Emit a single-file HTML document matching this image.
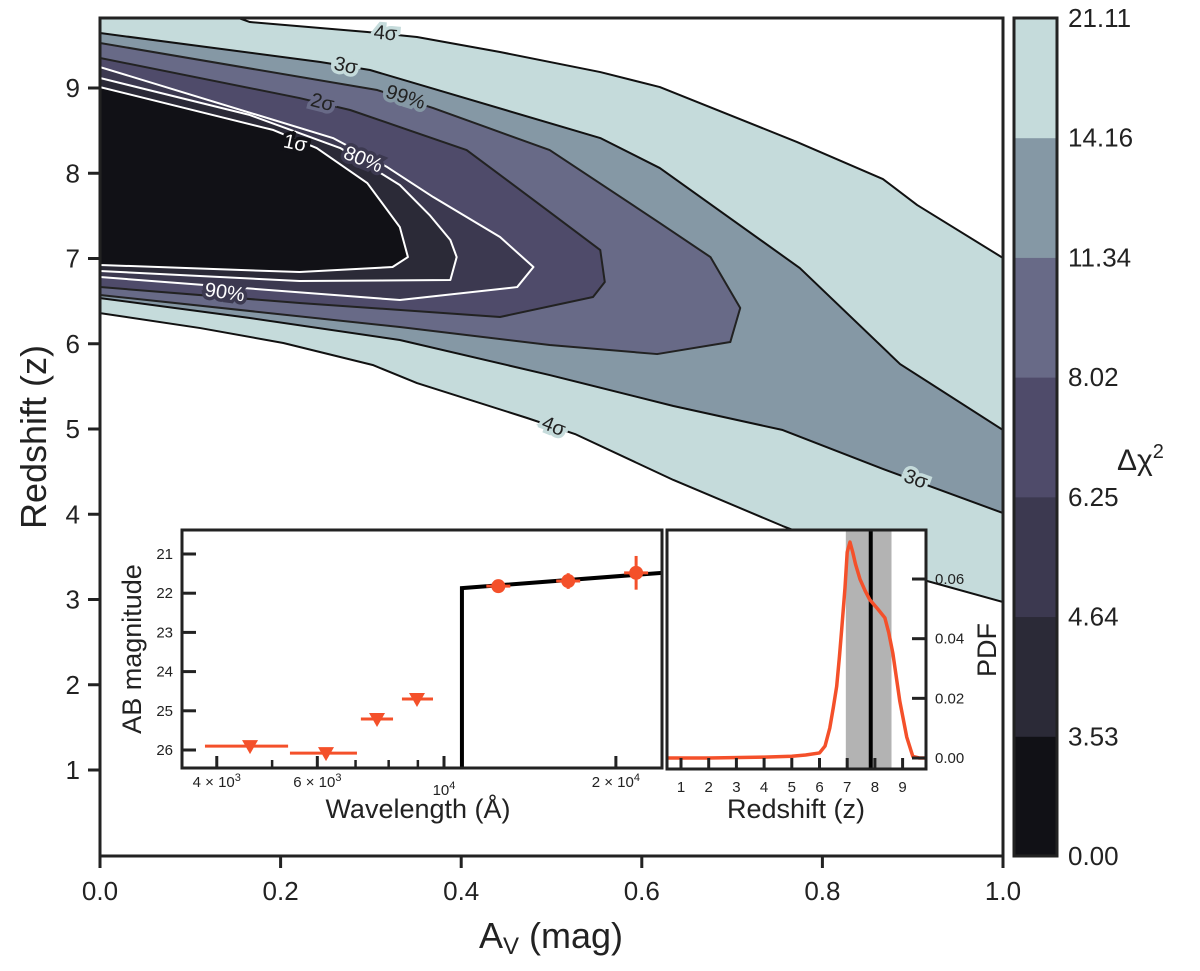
<!DOCTYPE html>
<html><head><meta charset="utf-8"><style>
html,body{margin:0;padding:0;background:#fff;}
svg text{font-family:"Liberation Sans","DejaVu Sans",sans-serif;fill:#222;}
</style></head><body>
<svg id="chart" width="1200" height="966" viewBox="0 0 1200 966" xmlns="http://www.w3.org/2000/svg"></svg>
<script>
// ---------- main contour data (Av, z) ----------
const bandColors = ["#c5dbdb","#8598a5","#686a87","#4f4b6a","#3c3950","#2b2a37","#111116"];
const bandStroke = ["#111","#111","#222","#222","#fff","#fff","#fff"];
const contour1 = [[0,9.856],[0.144,9.856],[0.166,9.774],[0.296,9.657],[0.351,9.598],[0.443,9.422],[0.554,9.187],[0.620,9.011],[0.772,8.366],[0.867,7.932],[0.905,7.627],[1,7.006],[1,2.97],[0.916,3.217],[0.756,3.862],[0.635,4.402],[0.526,4.941],[0.473,5.129],[0.351,5.539],[0.302,5.751],[0.203,6.009],[0.111,6.184],[0,6.360]];
const contour2 = [[0,9.645],[0.244,9.305],[0.299,9.211],[0.554,8.413],[0.620,8.061],[0.775,6.888],[0.886,5.762],[1,4.988],[1,4.014],[0.867,4.531],[0.756,4.988],[0.635,5.270],[0.498,5.633],[0.332,6.044],[0.166,6.302],[0,6.536]];
const contour3 = [[0,9.528],[0.307,8.976],[0.369,8.765],[0.498,8.272],[0.620,7.416],[0.676,7.017],[0.709,6.419],[0.698,6.020],[0.617,5.879],[0.498,5.985],[0.332,6.196],[0,6.572]];
const contour4 = [[0,9.352],[0.221,8.882],[0.277,8.742],[0.406,8.272],[0.498,7.545],[0.554,7.099],[0.559,6.724],[0.546,6.548],[0.443,6.314],[0.221,6.478],[0,6.665]];
const contour5 = [[0,9.246],[0.258,8.413],[0.318,8.073],[0.369,7.721],[0.443,7.252],[0.480,6.900],[0.462,6.665],[0.332,6.513],[0,6.783]];
const contour6 = [[0,9.117],[0.166,8.683],[0.266,8.296],[0.332,7.862],[0.365,7.510],[0.388,7.217],[0.395,7.017],[0.388,6.748],[0.221,6.736],[0,6.853]];
const contour7 = [[0,9.011],[0.192,8.507],[0.240,8.296],[0.296,7.885],[0.332,7.369],[0.341,7.017],[0.324,6.900],[0.221,6.841],[0,6.924]];
const contours = [contour1,contour2,contour3,contour4,contour5,contour6,contour7];
const contourLabels = ["4σ","3σ","99%","2σ","1σ","80%","90%","4σ","3σ"];
const contourLabelPos = [[0.316,9.63],[0.272,9.25],[0.338,8.88],[0.246,8.82],[0.216,8.34],[0.291,8.15],[0.138,6.59],[0.502,5.02],[0.903,4.40]];
const contourLabelAng = [5,12,18,14,12,22,8,22,20];
const contourLabelWhite = [false,false,false,false,true,true,true,false,false];
const contourLabelBg = [0,0,1,2,6,4,4,0,0];
const xTicks = [0,0.2,0.4,0.6,0.8,1.0];
const xTickLabels = ["0.0","0.2","0.4","0.6","0.8","1.0"];
const yTicks = [1,2,3,4,5,6,7,8,9];
const cbLabels = ["0.00","3.53","4.64","6.25","8.02","11.34","14.16","21.11"];
// ---------- SED inset data ----------
const sedLambda = [10750,10750,24100];
const sedMag = [27.0,21.87,21.48];
const detLambda = [12450,16500,21700];
const detMag = [21.82,21.69,21.48];
const detMagErr = [0.08,0.2,0.43];
const limLambda = [4574,6214,7633,8968];
const limLambdaLo = [3814,5373,7152,8440];
const limLambdaHi = [5333,7040,8142,9566];
const limMag = [25.90,26.08,25.21,24.70];
const sedXTicks = [4000,6000,10000,20000];
const sedXMinor = [5000,7000,8000,9000];
const sedYTicks = [21,22,23,24,25,26];
// ---------- PDF inset data ----------
const pdfZ = [0.49,2,4,5,5.5,6.0,6.2,6.37,6.5,6.62,6.72,6.80,6.92,7.0,7.1,7.2,7.3,7.46,7.65,7.82,8.1,8.36,8.5,8.65,8.9,9.15,9.37,9.6,9.85];
const pdfVal = [0.0,0.0,0.0003,0.0006,0.001,0.0017,0.004,0.010,0.017,0.024,0.034,0.043,0.057,0.069,0.0724,0.069,0.065,0.060,0.056,0.053,0.050,0.047,0.042,0.035,0.019,0.007,0.0005,0.0,0.0];
const pdfXTicks = [1,2,3,4,5,6,7,8,9];
const pdfYTicks = [0,0.02,0.04,0.06];
const pdfYTickLabels = ["0.00","0.02","0.04","0.06"];
const bestZ = 7.85, zLo = 6.95, zHi = 8.6;

const NS="http://www.w3.org/2000/svg";
const svg=document.getElementById('chart');
function mk(tag,attrs,parent){const e=document.createElementNS(NS,tag);for(const k in attrs)e.setAttribute(k,attrs[k]);(parent||svg).appendChild(e);return e;}
const X=a=>100+a*903;
const Y=z=>770-(z-1)*85.25;
const clip=mk('clipPath',{id:'mainclip'});mk('rect',{x:100,y:18,width:903,height:838},clip);
const g=mk('g',{'clip-path':'url(#mainclip)'});


const bandNames=['band-4sigma','band-3sigma','band-99pct','band-2sigma','band-80pct','band-90pct','band-1sigma'];
contours.forEach((c,i)=>{
  const p=mk('polygon',{points:c.map(d=>X(d[0])+','+Y(d[1])).join(' '),fill:bandColors[i],stroke:bandStroke[i],'stroke-width':2,'stroke-linejoin':'round'},g);
  
  
});
contourLabels.forEach((t,i)=>{
  const x=X(contourLabelPos[i][0]),y=Y(contourLabelPos[i][1]);
  const w=contourLabelWhite[i];
  const tx=mk('text',{x:x,y:y,'font-size':20,'text-anchor':'middle','dominant-baseline':'middle',transform:`rotate(${contourLabelAng[i]} ${x} ${y})`,style:`fill:${w?'#fff':'#222'};stroke:${bandColors[contourLabelBg[i]]};stroke-width:7;paint-order:stroke;`},g);
  tx.textContent=t;
  
  
});
const fr=mk('rect',{x:100,y:18,width:903,height:838,fill:'none',stroke:'#222','stroke-width':3});


xTicks.forEach((v,i)=>{
  mk('line',{x1:X(v),x2:X(v),y1:856,y2:868,stroke:'#222','stroke-width':3});
  const t=mk('text',{x:X(v),y:900,'font-size':26,'text-anchor':'middle'});t.textContent=xTickLabels[i];
  
  
});
yTicks.forEach(v=>{
  mk('line',{x1:88,x2:100,y1:Y(v),y2:Y(v),stroke:'#222','stroke-width':3});
  const t=mk('text',{x:80,y:Y(v)+9,'font-size':26,'text-anchor':'end'});t.textContent=v;
  
  
});
let t=mk('text',{x:551,y:948,'font-size':36,'text-anchor':'middle'});
t.innerHTML='A<tspan font-size="24" dy="6">V</tspan><tspan dy="-6"> (mag)</tspan>';


t=mk('text',{x:46,y:437,'font-size':36,'text-anchor':'middle',transform:'rotate(-90 46 437)'});t.textContent='Redshift (z)';


const cbTop=18,cbBot=856,cbH=(cbBot-cbTop)/7;
for(let i=0;i<7;i++){
  const r=mk('rect',{x:1014,y:cbBot-(i+1)*cbH,width:43,height:cbH+0.5,fill:bandColors[6-i]});
  
  
}
mk('rect',{x:1014,y:cbTop,width:43,height:cbBot-cbTop,fill:'none',stroke:'#222','stroke-width':3});
cbLabels.forEach((l,i)=>{
  const tt=mk('text',{x:1068,y:cbBot-i*cbH+9,'font-size':26});tt.textContent=l;
  
  
});
t=mk('text',{x:1117,y:470,'font-size':30});t.innerHTML='Δχ<tspan font-size="20" dy="-12">2</tspan>';



// ---------- SED inset ----------
const sL=182,sR=662,sT=530,sB=768;
const SX=l=>444+(Math.log10(l)-4)*571;
const SY=m=>554+(m-21)*39.2;
const sg=mk('g',{});


mk('rect',{x:sL,y:sT,width:sR-sL,height:sB-sT,fill:'#fff'},sg);
const sclip=mk('clipPath',{id:'sedclip'});mk('rect',{x:sL,y:sT,width:sR-sL,height:sB-sT},sclip);
const sgi=mk('g',{'clip-path':'url(#sedclip)'},sg);
let sl=mk('polyline',{points:sedLambda.map((l,i)=>SX(l)+','+SY(sedMag[i])).join(' '),fill:'none',stroke:'#000','stroke-width':4},sgi);


const OR='#f4502a';
limLambda.forEach((l,i)=>{
  mk('line',{x1:SX(limLambdaLo[i]),x2:SX(limLambdaHi[i]),y1:SY(limMag[i]),y2:SY(limMag[i]),stroke:OR,'stroke-width':3},sgi);
  const x=SX(l),y=SY(limMag[i]);
  const p=mk('polygon',{points:`${x-8},${y-6} ${x+8},${y-6} ${x},${y+8}`,fill:OR},sgi);
  
  
});
detLambda.forEach((l,i)=>{
  const x=SX(l),y=SY(detMag[i]);
  mk('line',{x1:x,x2:x,y1:SY(detMag[i]-detMagErr[i]),y2:SY(detMag[i]+detMagErr[i]),stroke:OR,'stroke-width':3},sgi);
  mk('line',{x1:x-12,x2:x+12,y1:y,y2:y,stroke:OR,'stroke-width':3},sgi);
  const c=mk('circle',{cx:x,cy:y,r:7,fill:OR},sgi);
  
  
});
mk('rect',{x:sL,y:sT,width:sR-sL,height:sB-sT,fill:'none',stroke:'#222','stroke-width':3},sg);
sedYTicks.forEach(v=>{
  mk('line',{x1:sL,x2:sL+14,y1:SY(v),y2:SY(v),stroke:'#222','stroke-width':3},sg);
  const tt=mk('text',{x:sL-9,y:SY(v)+5,'font-size':15,'text-anchor':'end'},sg);tt.textContent=v;
  
  
});
sedXMinor.forEach(v=>mk('line',{x1:SX(v),x2:SX(v),y1:sB,y2:sB-8,stroke:'#222','stroke-width':2.5},sg));
const sedXLab=['4 × 10<tspan dy="-6" font-size="11">3</tspan>','6 × 10<tspan dy="-6" font-size="11">3</tspan>','10<tspan dy="-6" font-size="11">4</tspan>','2 × 10<tspan dy="-6" font-size="11">4</tspan>'];
sedXTicks.forEach((v,i)=>{
  mk('line',{x1:SX(v),x2:SX(v),y1:sB,y2:sB-12,stroke:'#222','stroke-width':3},sg);
  const tt=mk('text',{x:SX(v),y:i==2?795:787,'font-size':15,'text-anchor':'middle'},sg);tt.innerHTML=sedXLab[i];
  
  
});
t=mk('text',{x:418,y:818,'font-size':27,'text-anchor':'middle'},sg);t.textContent='Wavelength (Å)';


t=mk('text',{x:141,y:649,'font-size':27,'text-anchor':'middle',transform:'rotate(-90 141 649)'},sg);t.textContent='AB magnitude';



// ---------- PDF inset ----------
const pL=667,pR=926,pT=530,pB=769;
const PX=z=>653.3+z*27.7;
const PY=v=>758-v*2983;
const pg=mk('g',{});


mk('rect',{x:pL,y:pT,width:pR-pL,height:pB-pT,fill:'#fff'},pg);
let band=mk('rect',{x:PX(zLo),y:pT,width:PX(zHi)-PX(zLo),height:pB-pT,fill:'#b3b3b3'},pg);


let bl=mk('line',{x1:PX(bestZ),x2:PX(bestZ),y1:pT,y2:pB,stroke:'#000','stroke-width':4},pg);


let pc=mk('polyline',{points:pdfZ.map((z,i)=>PX(z)+','+PY(pdfVal[i])).join(' '),fill:'none',stroke:OR,'stroke-width':3.5,'stroke-linejoin':'round'},pg);


mk('rect',{x:pL,y:pT,width:pR-pL,height:pB-pT,fill:'none',stroke:'#222','stroke-width':3},pg);
pdfXTicks.forEach(v=>{
  mk('line',{x1:PX(v),x2:PX(v),y1:pB,y2:pB-11,stroke:'#222','stroke-width':3},pg);
  const tt=mk('text',{x:PX(v),y:792,'font-size':15,'text-anchor':'middle'},pg);tt.textContent=v;
  
  
});
pdfYTicks.forEach((v,i)=>{
  mk('line',{x1:pR-14,x2:pR,y1:PY(v),y2:PY(v),stroke:'#222','stroke-width':3},pg);
  const tt=mk('text',{x:935,y:PY(v)+5,'font-size':15},pg);tt.textContent=pdfYTickLabels[i];
  
  
});
t=mk('text',{x:796,y:818,'font-size':27,'text-anchor':'middle'},pg);t.textContent='Redshift (z)';


t=mk('text',{x:996,y:650,'font-size':27,'text-anchor':'middle',transform:'rotate(-90 996 650)'},pg);t.textContent='PDF';


</script>
</body></html>
